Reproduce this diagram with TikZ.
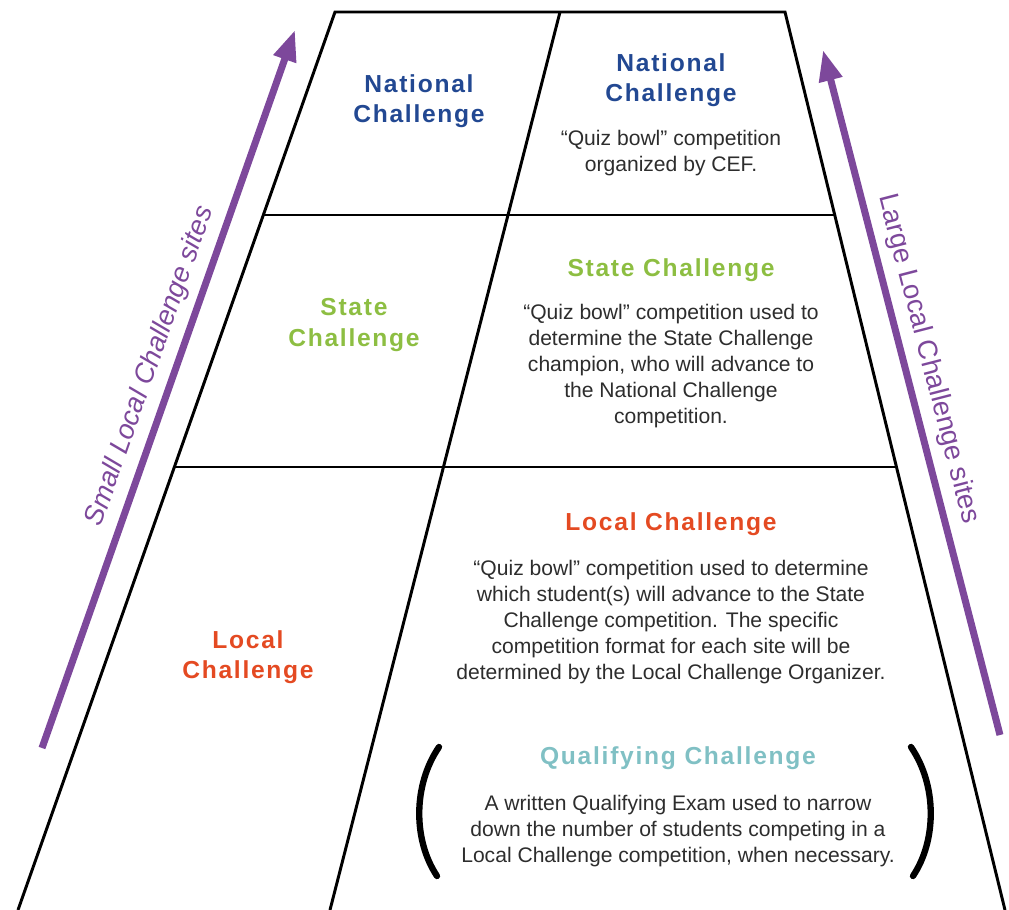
\documentclass[tikz,border=0pt]{standalone}
\usepackage{fontspec}
\setmainfont{Liberation Sans}
\usetikzlibrary{arrows.meta}
\definecolor{natblue}{RGB}{34,72,146}
\definecolor{stgreen}{RGB}{141,190,66}
\definecolor{locred}{RGB}{228,74,34}
\definecolor{qualteal}{RGB}{128,192,196}
\definecolor{sitepurple}{RGB}{125,72,155}
\definecolor{bodygray}{RGB}{45,45,45}

\begin{document}
\begin{tikzpicture}[x=0.025cm, y=-0.025cm,
    edge/.style={line width=2.1pt, black},
    rung/.style={line width=1.1pt, black},
    title/.style={inner sep=0pt, align=center,
      font=\fontsize{17.5}{21.5}\selectfont\bfseries\addfontfeature{LetterSpace=7}},
    blurb/.style={inner sep=0pt, align=center, text=bodygray,
      font=\fontsize{15}{18.4}\selectfont},
    sitearrow/.style={draw=sitepurple, line width=5pt,
      -{Triangle[length=22pt,width=16pt]}},
    sitelabel/.style={sloped, above=6pt, inner sep=0pt, text=sitepurple,
      font=\fontsize{19.5}{22}\selectfont},
    paren/.style={line width=4.5pt, line cap=round}]
  \useasboundingbox (0,0) rectangle (1009,910);

  % corners of the frame
  \coordinate (tl) at (335,12);
  \coordinate (tm) at (560,12);
  \coordinate (tr) at (785,12);
  \coordinate (bl) at (18,910);
  \coordinate (bm) at (330,910);
  \coordinate (br) at (1005,910);
  \coordinate (r1l) at (263,215);
  \coordinate (r1r) at (835,215);
  \coordinate (r2l) at (174,467);
  \coordinate (r2r) at (896,467);

  % frame lines
  \draw[edge] (bl) -- (tl) -- (tr) -- (br);
  \draw[edge] (tm) -- (bm);
  \draw[rung] (r1l) -- (r1r);
  \draw[rung] (r2l) -- (r2r);

  % side arrows
  \coordinate (sa0) at (42,748);
  \coordinate (sa1) at (295,30);
  \coordinate (la0) at (1000,735);
  \coordinate (la1) at (823,50);
  \draw[sitearrow] (sa0) -- (sa1)
    node[sitelabel, pos=0.52] (small) {\itshape Small Local Challenge sites};
  \draw[sitearrow] (la0) -- (la1)
    node[sitelabel, pos=0.54] (large) {Large Local Challenge sites};

  % national
  \node[title, text=natblue] (natl) at (419,101) {National\\Challenge};
  \node[title, text=natblue] (natr) at (671,80) {National\\Challenge};
  \node[blurb] (natb) at (671,153) {“Quiz bowl” competition\\organized by CEF.};

  % state
  \node[title, text=stgreen] (stl) at (354,325) {State\\Challenge};
  \node[title, text=stgreen] (str) at (671,270) {State Challenge};
  \node[blurb] (stb) at (671,366) {“Quiz bowl” competition used to\\determine the State Challenge\\champion, who will advance to\\the National Challenge\\competition.};

  % local
  \node[title, text=locred] (locl) at (248,657) {Local\\Challenge};
  \node[title, text=locred] (locr) at (671,524) {Local Challenge};
  \node[blurb] (locb) at (671,622) {“Quiz bowl” competition used to determine\\which student(s) will advance to the State\\Challenge competition. The specific\\competition format for each site will be\\determined by the Local Challenge Organizer.};

  % qualifying
  \node[title, text=qualteal] (qual) at (678,758) {Qualifying Challenge};
  \node[blurb] (qualb) at (678,831) {A written Qualifying Exam used to narrow\\down the number of students competing in a\\Local Challenge competition, when necessary.};
  \draw[paren] (439,747) .. controls (413,785) and (413,840) .. (437,876);
  \draw[paren] (911,747) .. controls (937,785) and (937,840) .. (913,876);
\end{tikzpicture}
\end{document}
